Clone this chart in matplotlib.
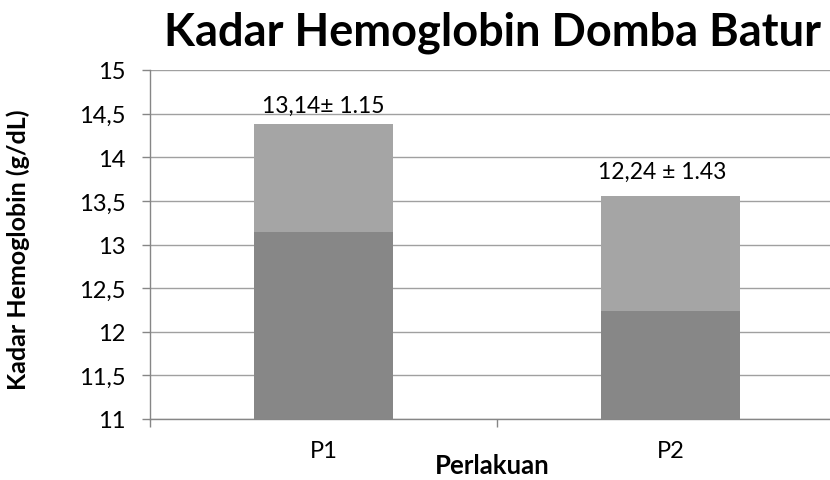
import matplotlib
matplotlib.use("Agg")
import matplotlib.pyplot as plt

plt.rcParams['font.family'] = ['Lato', 'DejaVu Sans']

categories = ["P1", "P2"]
mean_values = [13.14, 12.24]
upper_values = [1.24, 1.32]
labels = ["13,14± 1.15", "12,24 ± 1.43"]
yticks = [11, 11.5, 12, 12.5, 13, 13.5, 14, 14.5, 15]
ytick_labels = ["11", "11,5", "12", "12,5", "13", "13,5", "14", "14,5", "15"]

# label offsets (pixels) relative to bar top centre
label_dx = [0, -8]
label_dy = [12.5, 18]

W, H = 830, 481
fig = plt.figure(figsize=(W / 100, H / 100), dpi=100)
ax = fig.add_axes([150 / W, 1 - 420 / H, 694 / W, (420 - 71) / H])

x = list(range(len(categories)))
bottom_base = 11
ax.bar(x, [m - bottom_base for m in mean_values], bottom=bottom_base, width=0.4,
       color="#878787", zorder=3)
ax.bar(x, upper_values, bottom=mean_values, width=0.4, color="#A5A5A5", zorder=3)

ax.set_ylim(11, 15)
ax.set_xlim(-0.5, 1.5)
ax.set_yticks(yticks)
ax.set_yticklabels(ytick_labels, fontsize=17, color="#000000")
ax.set_xticks(x)
ax.set_xticklabels(categories, fontsize=17)
ax.set_xticks([-0.5, 0.5, 1.5], minor=True)
ax.tick_params(axis='x', which='major', length=0, pad=15)
ax.tick_params(axis='x', which='minor', length=5.5, color="#868686", width=1)
ax.tick_params(axis='y', which='major', length=5.8, color="#868686", width=1, pad=12)

ax.yaxis.grid(True, color="#A0A0A0", linewidth=1, zorder=0)
ax.set_axisbelow(True)
for s in ['top', 'right']:
    ax.spines[s].set_visible(False)
for s in ['left', 'bottom']:
    ax.spines[s].set_color("#868686")
    ax.spines[s].set_linewidth(1)

for xi, m, u, lab, dx, dy in zip(x, mean_values, upper_values, labels, label_dx, label_dy):
    ax.annotate(lab, (xi, m + u), xytext=(dx * 0.72, dy * 0.72), textcoords="offset points",
                ha="center", va="baseline", fontsize=16.5)

fig.text(492 / W, 1 - 46 / H, "Kadar Hemoglobin Domba Batur", ha="center", va="baseline",
         fontsize=32.5, fontweight="bold")
fig.text(18 / W, 1 - 250 / H, "Kadar Hemoglobin (g/dL)", ha="center", va="center",
         rotation=90, fontsize=18, fontweight="bold")
fig.text(492 / W, 1 - 474 / H, "Perlakuan", ha="center", va="baseline",
         fontsize=18.5, fontweight="bold")

fig.savefig("out.png", dpi=100)
